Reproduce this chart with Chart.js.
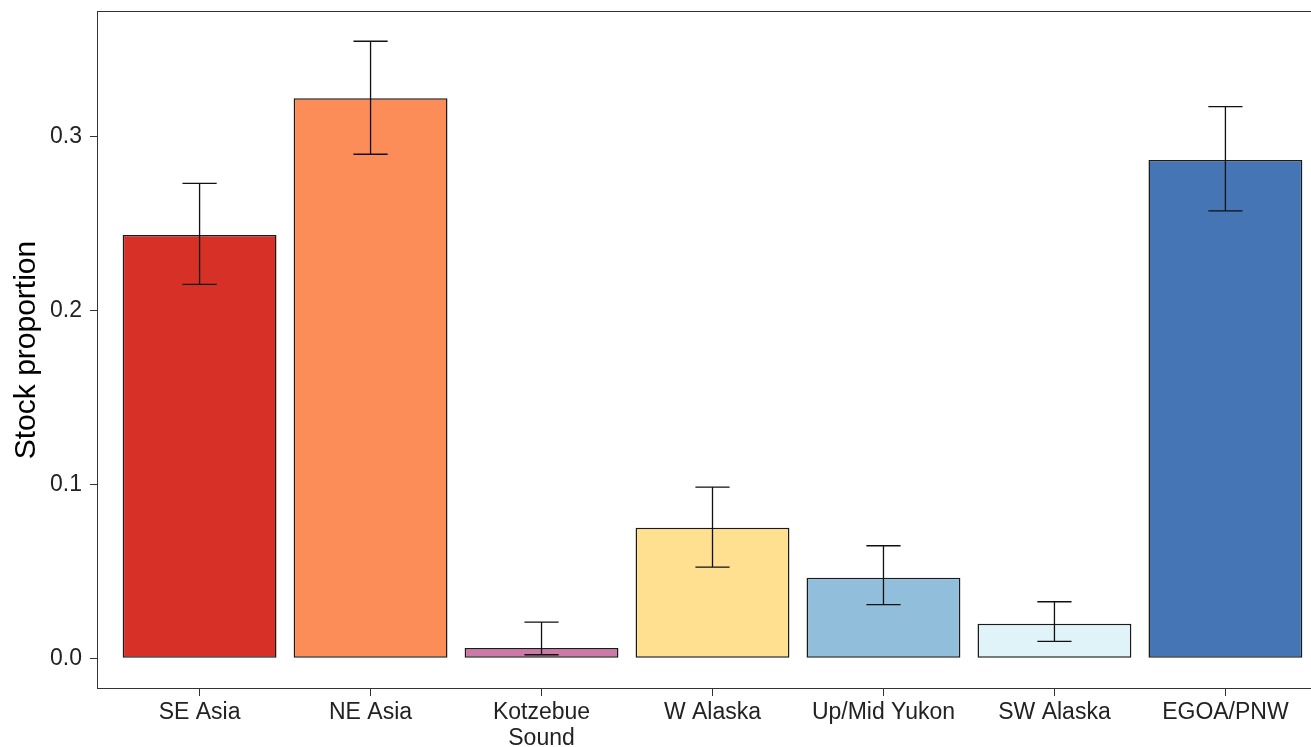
<!DOCTYPE html>
<html>
<head>
<meta charset="utf-8">
<script src="https://cdn.jsdelivr.net/npm/chart.js@4.4.1/dist/chart.umd.min.js"></script>
<style>
  html, body { margin: 0; padding: 0; background: #fff; overflow: hidden; width: 1311px; height: 747px; }
  #wrap { width: 1330px; height: 747px; }
</style>
</head>
<body>
<div id="wrap"><canvas id="c" width="1330" height="747"></canvas></div>
<script>
const categories = ['SE Asia', 'NE Asia', ['Kotzebue', 'Sound'], 'W Alaska', 'Up/Mid Yukon', 'SW Alaska', 'EGOA/PNW'];
const proportion = [0.2435, 0.3221, 0.0059, 0.0750, 0.0463, 0.0198, 0.2866];
const lowerCI    = [0.2151, 0.2899, 0.0020, 0.0524, 0.0308, 0.0097, 0.2573];
const upperCI    = [0.2732, 0.3549, 0.0208, 0.0984, 0.0647, 0.0325, 0.3173];
const barColors  = ['#D73027', '#FC8D59', '#CC79A7', '#FEE090', '#91BFDB', '#E0F3F8', '#4575B4'];
const yTicks     = [0, 0.1, 0.2, 0.3];
const yTickLabels = ['0.0', '0.1', '0.2', '0.3'];

const FONT = "'Liberation Sans', Arial, Helvetica, sans-serif";

const barData = proportion.map((v, i) => ({ x: i + 1, y: v }));

const errorBarPlugin = {
  id: 'errorBars',
  afterDatasetsDraw(chart) {
    const { ctx, scales: { x, y } } = chart;
    ctx.save();
    ctx.strokeStyle = '#111';
    ctx.lineWidth = 1.3;
    for (let i = 0; i < proportion.length; i++) {
      const cx = x.getPixelForValue(i + 1);
      const xl = x.getPixelForValue(i + 1 - 0.1);
      const xr = x.getPixelForValue(i + 1 + 0.1);
      const yl = y.getPixelForValue(lowerCI[i]);
      const yu = y.getPixelForValue(upperCI[i]);
      ctx.beginPath();
      ctx.moveTo(cx, yu); ctx.lineTo(cx, yl);
      ctx.moveTo(xl, yu); ctx.lineTo(xr, yu);
      ctx.moveTo(xl, yl); ctx.lineTo(xr, yl);
      ctx.stroke();
    }
    ctx.restore();
  }
};

const framePlugin = {
  id: 'frame',
  afterDraw(chart) {
    const { ctx, chartArea: a } = chart;
    ctx.save();
    ctx.strokeStyle = '#333';
    ctx.lineWidth = 1;
    ctx.strokeRect(Math.round(a.left) + 0.5, Math.round(a.top) + 0.5,
                   Math.round(a.right - a.left), Math.round(a.bottom - a.top) - 1);
    ctx.restore();
  }
};

new Chart(document.getElementById('c'), {
  type: 'bar',
  data: {
    datasets: [{
      data: barData,
      backgroundColor: barColors,
      borderColor: '#1a1a1a',
      borderWidth: 1.5,
      borderSkipped: false,
      barPercentage: 0.9,
      categoryPercentage: 1.0
    }]
  },
  plugins: [errorBarPlugin, framePlugin],
  options: {
    responsive: false,
    devicePixelRatio: 1,
    animation: false,
    layout: { padding: { top: 11, right: 2, left: 0, bottom: 0 } },
    plugins: { legend: { display: false }, tooltip: { enabled: false } },
    scales: {
      x: {
        type: 'linear',
        min: 0.4,
        max: 7.6,
        offset: false,
        afterBuildTicks(scale) {
          scale.ticks = categories.map((c, i) => ({ value: i + 1 }));
        },
        afterFit(scale) {
          scale.height = 58;
          scale.paddingLeft = 0;
          scale.paddingRight = 0;
        },
        ticks: {
          autoSkip: false,
          maxRotation: 0,
          minRotation: 0,
          padding: 4,
          color: '#222',
          font: { family: FONT, size: 23, lineHeight: 1.13 },
          callback(value) {
            const idx = Math.round(value) - 1;
            return categories[idx];
          }
        },
        grid: {
          display: true,
          offset: false,
          drawOnChartArea: false,
          drawTicks: true,
          tickLength: 7,
          tickColor: '#333',
          tickWidth: 1
        },
        border: { display: false }
      },
      y: {
        min: -0.0177,
        max: 0.3723,
        afterBuildTicks(scale) {
          scale.ticks = yTicks.map(v => ({ value: v }));
        },
        afterFit(scale) {
          scale.width = 97;
          scale.paddingTop = 0;
          scale.paddingBottom = 0;
        },
        ticks: {
          padding: 8,
          color: '#222',
          font: { family: FONT, size: 23 },
          callback(value) {
            const idx = yTicks.findIndex(t => Math.abs(t - value) < 1e-9);
            return idx >= 0 ? yTickLabels[idx] : '';
          }
        },
        grid: {
          display: true,
          drawOnChartArea: false,
          drawTicks: true,
          tickLength: 7,
          tickColor: '#333',
          tickWidth: 1
        },
        border: { display: false },
        title: {
          display: true,
          text: 'Stock proportion',
          color: '#000',
          font: { family: FONT, size: 30, lineHeight: 1 },
          padding: { top: 12, bottom: 0 }
        }
      }
    }
  }
});
</script>
</body>
</html>
